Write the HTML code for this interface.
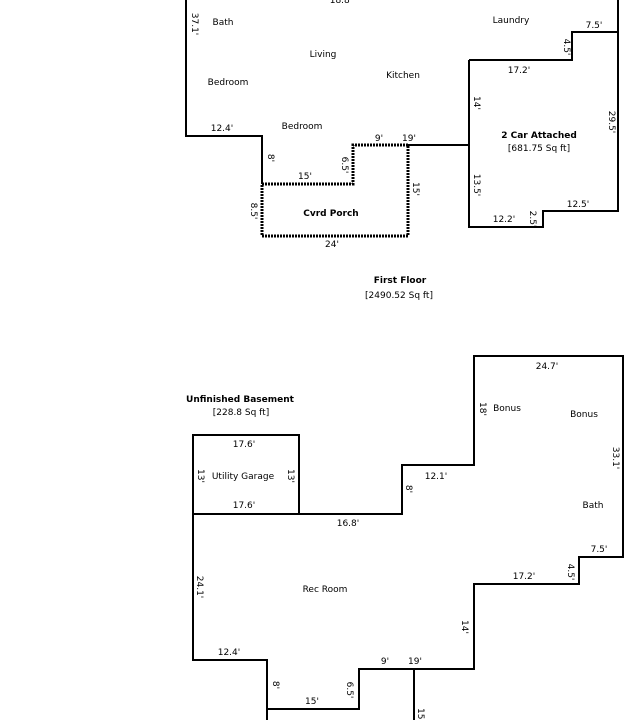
<!DOCTYPE html>
<html><head><style>html,body{margin:0;padding:0;background:#fff}svg{display:block}</style></head><body>
<svg width="624" height="720" viewBox="0 0 624 720" xmlns="http://www.w3.org/2000/svg" font-family="DejaVu Sans, Liberation Sans, sans-serif" font-size="9" fill="#000">
<g stroke="#000" stroke-width="2" fill="none">
<polyline points="186,0 186,136 262,136 262,184"/>
<polyline points="408,145 469,145"/>
<polyline points="469,60 469,227 543,227 543,211 618,211 618,0"/>
<polyline points="469,60 572,60 572,32 618,32"/>
<polyline points="262,184 353,184 353,145 408,145 408,236 262,236 262,184" stroke-width="3" stroke-dasharray="2,1"/>
<polyline points="193,514 193,435 299,435 299,514"/>
<polyline points="267,720 267,660 193,660 193,514 402,514 402,465 474,465 474,356 623,356 623,557 579,557 579,584 474,584 474,669 359,669 359,709 267,709"/>
<polyline points="414,669 414,720"/>
</g>
<g text-anchor="middle">
<text x="341" y="3">18.8'</text>
<text x="223" y="25">Bath</text>
<text x="511" y="23">Laundry</text>
<text x="594" y="28">7.5'</text>
<text x="323" y="57">Living</text>
<text x="403" y="78">Kitchen</text>
<text x="228" y="85">Bedroom</text>
<text x="519" y="73">17.2'</text>
<text x="222" y="131">12.4'</text>
<text x="302" y="129">Bedroom</text>
<text x="379" y="141">9'</text>
<text x="409" y="141">19'</text>
<text x="539" y="138" font-weight="bold">2 Car Attached</text>
<text x="539" y="151">[681.75 Sq ft]</text>
<text x="305" y="179">15'</text>
<text x="331" y="216" font-weight="bold">Cvrd Porch</text>
<text x="578" y="207">12.5'</text>
<text x="504" y="222">12.2'</text>
<text x="332" y="247">24'</text>
<text x="400" y="283" font-weight="bold">First Floor</text>
<text x="399" y="298">[2490.52 Sq ft]</text>
<text x="547" y="369">24.7'</text>
<text x="240" y="402" font-weight="bold">Unfinished Basement</text>
<text x="241" y="415">[228.8 Sq ft]</text>
<text x="507" y="411">Bonus</text>
<text x="584" y="417">Bonus</text>
<text x="244" y="447">17.6'</text>
<text x="243" y="479">Utility Garage</text>
<text x="436" y="479">12.1'</text>
<text x="244" y="508">17.6'</text>
<text x="593" y="508">Bath</text>
<text x="348" y="526">16.8'</text>
<text x="599" y="552">7.5'</text>
<text x="524" y="579">17.2'</text>
<text x="325" y="592">Rec Room</text>
<text x="229" y="655">12.4'</text>
<text x="385" y="664">9'</text>
<text x="415" y="664">19'</text>
<text x="312" y="704">15'</text>
</g>
<g text-anchor="middle">
<text transform="translate(192,24) rotate(90)">37.1'</text>
<text transform="translate(564,47) rotate(90)">4.5'</text>
<text transform="translate(474,103) rotate(90)">14'</text>
<text transform="translate(609,122) rotate(90)">29.5'</text>
<text transform="translate(268,158) rotate(90)">8'</text>
<text transform="translate(342,165) rotate(90)">6.5'</text>
<text transform="translate(413,189) rotate(90)">15'</text>
<text transform="translate(474,185) rotate(90)">13.5'</text>
<text transform="translate(251,211) rotate(90)">8.5'</text>
<text transform="translate(530,219) rotate(90)">2.5'</text>
<text transform="translate(480,409) rotate(90)">18'</text>
<text transform="translate(613,458) rotate(90)">33.1'</text>
<text transform="translate(198,476) rotate(90)">13'</text>
<text transform="translate(288,476) rotate(90)">13'</text>
<text transform="translate(406,489) rotate(90)">8'</text>
<text transform="translate(197,587) rotate(90)">24.1'</text>
<text transform="translate(568,572) rotate(90)">4.5'</text>
<text transform="translate(462,627) rotate(90)">14'</text>
<text transform="translate(273,685) rotate(90)">8'</text>
<text transform="translate(347,690) rotate(90)">6.5'</text>
<text transform="translate(418,715) rotate(90)">15'</text>
</g>
</svg>
</body></html>
